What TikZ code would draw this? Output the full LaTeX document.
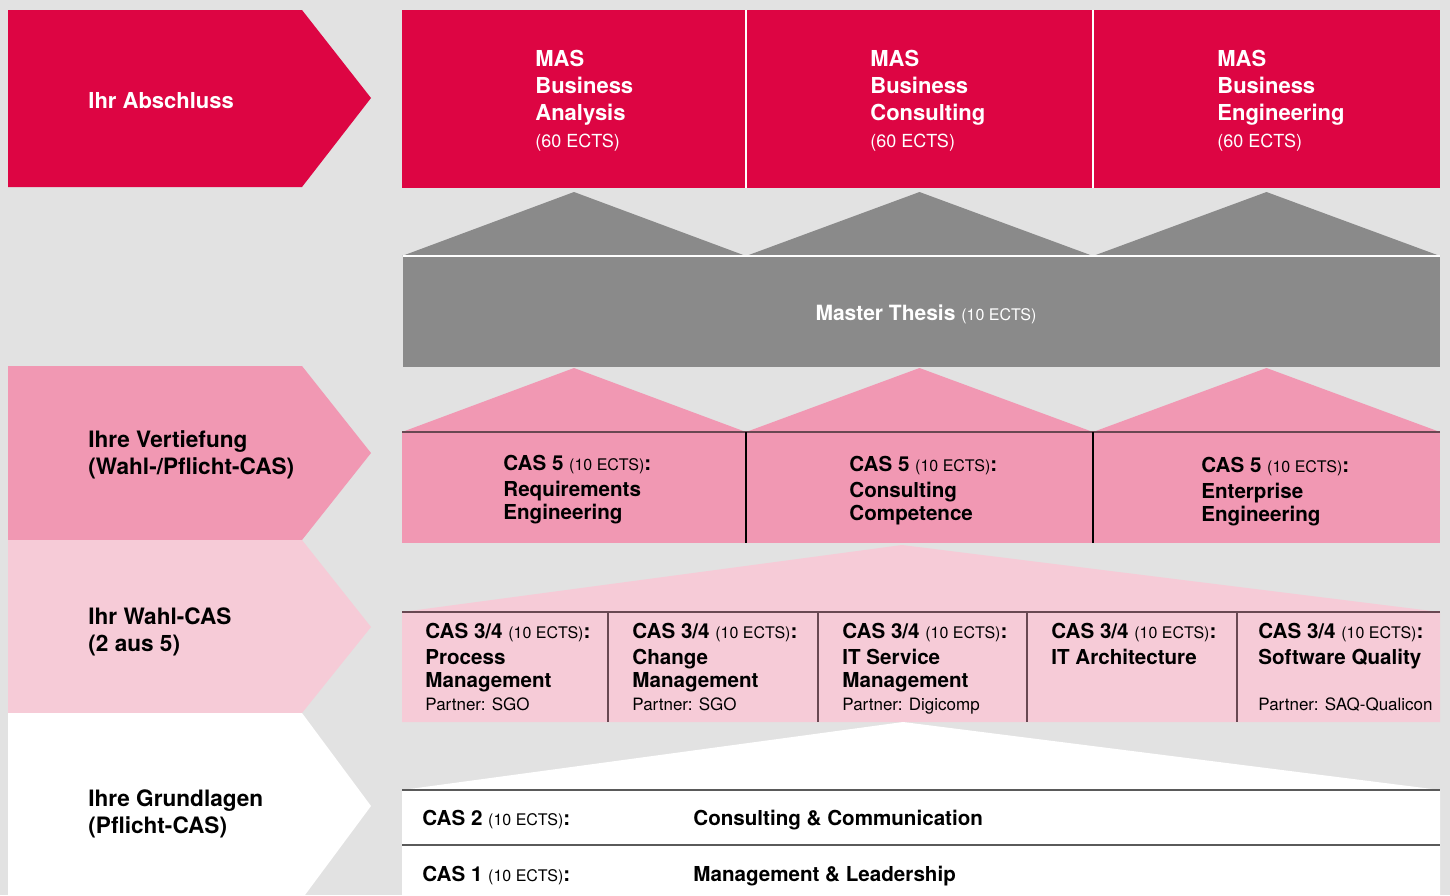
\documentclass[tikz,border=0pt]{standalone}
\usepackage{fontspec}
\setmainfont{TeX Gyre Heros}
\usepackage{tikz}
\usetikzlibrary{positioning}

\definecolor{concrete}{RGB}{226,226,226}
\definecolor{masred}{RGB}{221,5,67}
\definecolor{thesisgray}{RGB}{138,138,138}
\definecolor{deeppink}{RGB}{241,152,179}
\definecolor{palepink}{RGB}{246,203,215}
\definecolor{rimline}{RGB}{105,72,82}
\definecolor{baseline}{RGB}{90,90,90}

\newcommand{\ectsnote}[1]{{\mdseries\fontsize{8}{9}\selectfont(#1 ECTS)}}

\begin{document}
\begin{tikzpicture}[x=0.5pt, y=-0.5pt,
    % multi-line nodes sit on the baseline of their last line
    rowlabel/.style={anchor=base west, align=left, inner sep=0pt,
        font=\fontsize{11.3}{13.5}\selectfont\bfseries},
    mastitle/.style={anchor=base west, align=left, inner sep=0pt, text=white,
        font=\fontsize{11}{13.5}\selectfont\bfseries},
    casbox/.style={anchor=base west, align=left, inner sep=0pt,
        font=\fontsize{10.3}{11.5}\selectfont\bfseries},
    rim/.style={draw=rimline, line width=0.6pt}]

    \clip (0,0) rectangle (1450,895);
    \fill[concrete] (0,0) rectangle (1450,895);

    % left chevrons
    \foreach \top/\tip/\bot/\col in {10/98/187/masred, 366/453/540/deeppink,
                                     540/627/713/palepink, 713/806/899/white}
        \fill[\col] (8,\top) -- (302,\top) -- (371,\tip) -- (302,\bot) -- (8,\bot) -- cycle;

    % degrees
    \fill[masred] (402,10) rectangle (1440,188);
    \draw[white, line width=0.6pt] (746,10) -- (746,188) (1093,10) -- (1093,188);

    % roofs
    \foreach \a/\b in {402/746, 746/1093, 1093/1440} {
        \fill[thesisgray] (\a,256) -- ({(\a+\b)/2},192) -- (\b,256) -- cycle;
        \fill[deeppink] (\a,432) -- ({(\a+\b)/2},368) -- (\b,432) -- cycle;
    }

    % master thesis
    \fill[thesisgray] (403,256) rectangle (1440,367);
    \draw[white, line width=0.6pt] (403,256) -- (1440,256);

    % vertiefung
    \fill[deeppink] (402,432) rectangle (1440,543);
    \draw[rim] (402,432) -- (1440,432);
    \draw[black, line width=0.6pt] (746,432) -- (746,543) (1093,432) -- (1093,543);

    % wahl-cas
    \fill[palepink] (402,612) -- (902,545) -- (1440,612) -- (1440,722) -- (402,722) -- cycle;
    \draw[rim] (402,612) -- (1440,612);
    \foreach \x in {608, 818, 1027, 1237}
        \draw[rim] (\x,612) -- (\x,722);

    % grundlagen
    \fill[white] (402,790) -- (903,722) -- (1440,790) -- (1440,895) -- (402,895) -- cycle;
    \draw[draw=baseline, line width=0.6pt] (402,790) -- (1440,790) (402,845) -- (1440,845);

    % row labels
    \node (abschluss) [rowlabel, text=white, font=\fontsize{11}{13.5}\selectfont\bfseries]
        at (88,108) {Ihr Abschluss};
    \node (vertiefung) [rowlabel] at (88,474) {Ihre Vertiefung\\(Wahl-/Pflicht-CAS)};
    \node (wahl) [rowlabel] at (88,651) {Ihr Wahl-CAS\\(2 aus 5)};
    \node (grundlagen) [rowlabel] at (88,833) {Ihre Grundlagen\\(Pflicht-CAS)};

    % MAS
    \node (analysis) [mastitle] at (535,147) {MAS\\Business\\Analysis\\
        {\mdseries\fontsize{9}{12}\selectfont(60 ECTS)}};
    \node (consulting) [mastitle] at (870,147) {MAS\\Business\\Consulting\\
        {\mdseries\fontsize{9}{12}\selectfont(60 ECTS)}};
    \node (engineering) [mastitle] at (1217,147) {MAS\\Business\\Engineering\\
        {\mdseries\fontsize{9}{12}\selectfont(60 ECTS)}};

    \node (thesis) [anchor=base, inner sep=0pt, text=white,
        font=\fontsize{10.5}{12}\selectfont] at (926,320)
        {\bfseries Master Thesis \ectsnote{10}};

    % CAS 5
    \node (reqeng) [casbox] at (503,519) {CAS 5 \ectsnote{10}:\\[1.5pt]Requirements\\Engineering};
    \node (conscomp) [casbox] at (849,520) {CAS 5 \ectsnote{10}:\\[1.5pt]Consulting\\Competence};
    \node (enteng) [casbox] at (1201,521) {CAS 5 \ectsnote{10}:\\[1.5pt]Enterprise\\Engineering};

    % CAS 3/4
    \node (procmgmt) [casbox] at (425,710) {CAS 3/4 \ectsnote{10}:\\[1.5pt]Process\\Management\\
        {\mdseries\fontsize{8.5}{11.5}\selectfont Partner: SGO}};
    \node (chgmgmt) [casbox] at (632,710) {CAS 3/4 \ectsnote{10}:\\[1.5pt]Change\\Management\\
        {\mdseries\fontsize{8.5}{11.5}\selectfont Partner: SGO}};
    \node (itsm) [casbox] at (842,710) {CAS 3/4 \ectsnote{10}:\\[1.5pt]IT Service\\Management\\
        {\mdseries\fontsize{8.5}{11.5}\selectfont Partner: Digicomp}};
    \node (itarch) [casbox] at (1051,664) {CAS 3/4 \ectsnote{10}:\\[1.5pt]IT Architecture};
    \node (swqual) [casbox] at (1258,710) {CAS 3/4 \ectsnote{10}:\\[1.5pt]Software Quality\\ \\
        {\mdseries\fontsize{8.5}{11.5}\selectfont Partner: SAQ-Qualicon}};

    % CAS 1/2
    \node (cas2) [casbox] at (422,825) {CAS 2 \ectsnote{10}:};
    \node (commu) [casbox] at (693,825) {Consulting \& Communication};
    \node (cas1) [casbox] at (422,881) {CAS 1 \ectsnote{10}:};
    \node (leader) [casbox] at (693,881) {Management \& Leadership};
\end{tikzpicture}
\end{document}
